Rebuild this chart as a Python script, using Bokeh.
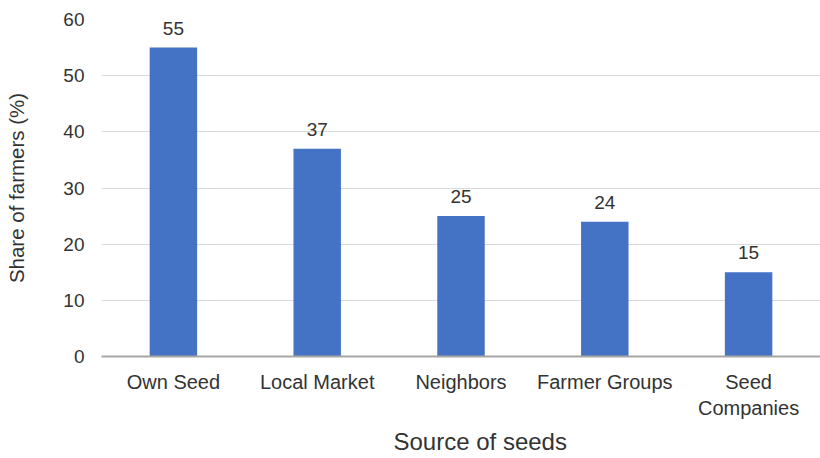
from bokeh.plotting import figure
from bokeh.models import Range1d, ColumnDataSource, LabelSet, Title
from bokeh.core.properties import value
from bokeh.embed import file_html
from bokeh.resources import INLINE

sources = ["Own Seed", "Local Market", "Neighbors", "Farmer Groups", "Seed\nCompanies"]
shares = [55, 37, 25, 24, 15]
y_ticks = [0, 10, 20, 30, 40, 50, 60]

FONT = "Liberation Sans"
TEXT = "#333333"

src = ColumnDataSource(dict(x=sources, y=shares, lab=[str(v) for v in shares]))

p = figure(x_range=sources, y_range=Range1d(0, 60), width=820, height=458,
           output_backend="svg", toolbar_location=None,
           min_border_left=101, min_border_right=0, min_border_top=19, min_border_bottom=102)

p.vbar(x="x", top="y", width=0.33, source=src, fill_color="#4472C4", line_color=None)

# value labels above each bar
p.add_layout(LabelSet(x="x", y="y", text="lab", source=src, text_align="center",
                      text_baseline="bottom", y_offset=13, text_font=value(FONT),
                      text_font_size="19px", text_color=TEXT))

p.outline_line_color = None
p.xgrid.grid_line_color = None
p.ygrid.grid_line_color = "#d9d9d9"
p.ygrid.grid_line_width = 1
p.yaxis.ticker = y_ticks

p.yaxis.axis_line_color = None
p.yaxis.major_tick_line_color = None
p.yaxis.minor_tick_line_color = None
p.yaxis.major_label_standoff = 11
p.yaxis.axis_label = "Share of farmers (%)"
p.yaxis.axis_label_standoff = 32

p.xaxis.axis_line_color = "#a6a6a6"
p.xaxis.axis_line_width = 2
p.xaxis.major_tick_line_color = None
p.xaxis.minor_tick_line_color = None
p.xaxis.major_label_standoff = 8

# x title, set a little right of the frame centre
p.add_layout(Title(text="Source of seeds", align="left", offset=292, standoff=8,
                   text_font=FONT, text_font_size="24px", text_font_style="normal",
                   text_color=TEXT), "below")

for ax in (p.xaxis, p.yaxis):
    ax.major_label_text_font = FONT
    ax.major_label_text_color = TEXT
    ax.axis_label_text_font = FONT
    ax.axis_label_text_font_style = "normal"
    ax.axis_label_text_color = TEXT

p.xaxis.major_label_text_font_size = "20px"
p.yaxis.major_label_text_font_size = "19px"
p.yaxis.axis_label_text_font_size = "20.5px"

open("out.html", "w").write(file_html(p, INLINE))
